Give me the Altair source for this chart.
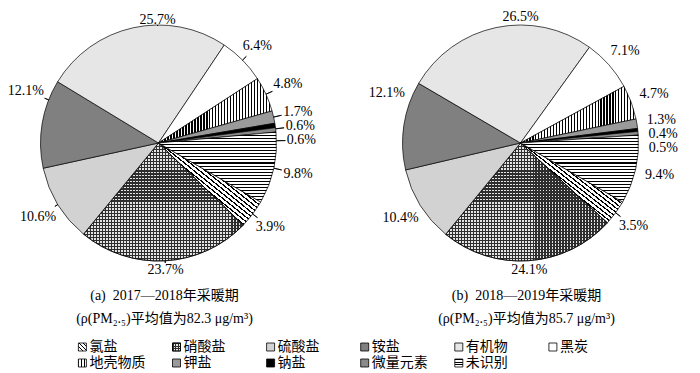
import math
import altair as alt
import pandas as pd

# ---------------- data ----------------
categories = ["氯盐", "硝酸盐", "硫酸盐", "铵盐", "有机物", "黑炭",
              "地壳物质", "钾盐", "钠盐", "微量元素", "未识别"]
share_2017 = [3.9, 23.7, 10.6, 12.1, 25.7, 6.4, 4.8, 1.7, 0.6, 0.6, 9.8]
share_2018 = [3.5, 24.1, 10.4, 12.1, 26.5, 7.1, 4.7, 1.3, 0.4, 0.5, 9.4]
period_ids = ["a", "b"]
caption_title = ["(a)\u00a0\u00a02017—2018年采暖期", "(b)\u00a0\u00a02018—2019年采暖期"]
caption_pm = ["(ρ(PM₂.₅)平均值为82.3 μg/m³)", "(ρ(PM₂.₅)平均值为85.7 μg/m³)"]

FONT = "Liberation Serif, Noto Sans CJK SC"
START_DEG = 120.0
START = math.radians(START_DEG)
R = 118

# ---------------- tables ----------------
rows = []
for pidx, vals in enumerate([share_2017, share_2018]):
    total = sum(vals)
    cum = 0.0
    spans = []
    for c, v in zip(categories, vals):
        spans.append((c, v, cum / total, (cum + v) / total))
        cum += v
    labs = [(s + e) / 2 for _, _, s, e in spans]
    # label style: upper-left labels are turned a little clockwise
    for i, lab in enumerate(labs):
        deg = (START_DEG + lab * 360) % 360
        if 260 <= deg < 360:
            labs[i] = lab + 12 / 360
    gap = 5.8 / 360
    for i in range(1, len(labs)):
        if labs[i] - labs[i - 1] < gap:
            labs[i] = labs[i - 1] + gap
    for (c, v, s, e), lab in zip(spans, labs):
        ang = START + lab * 2 * math.pi
        label = f"{v:.1f}%"
        hw = len(label) * 3.7
        sn, cs = abs(math.sin(ang)), abs(math.cos(ang))
        left = math.sin(ang) < 0
        rad = (121 if left else 124) + sn * (hw + 4) + cs * 2
        lead = rad - sn * (hw + 1) - cs * 6
        rows.append(dict(period=period_ids[pidx], pidx=pidx, cat=c, value=v,
                         start=s, end=e, lab=lab, rad=rad, lead=lead,
                         label=label))
pie_df = pd.DataFrame(rows)

cap_df = pd.DataFrame({"pidx": [0, 1], "t1": caption_title, "t2": caption_pm})
leg_df = pd.DataFrame({"cat": categories,
                       "col": [i % 6 for i in range(len(categories))],
                       "row": [i // 6 for i in range(len(categories))]})


# ---------------- pattern fills ----------------
def stripes(n, x1, y1, x2, y2, dark="#000000", light="#ffffff", duty=0.4):
    n = max(int(n), 2)
    stops = []
    for k in range(n):
        a = k / n
        b = (k + duty) / n
        d = (k + 1) / n
        stops += [(a, dark), (b, dark), (b, light), (d, light)]
    return alt.LinearGradient(
        gradient="linear",
        stops=[alt.GradientStop(offset=round(o, 5), color=c) for o, c in stops],
        x1=x1, y1=y1, x2=x2, y2=y2)


CLEAR = "rgba(255,255,255,0)"


def slice_box(s, e, r=R):
    a0 = START + s * 2 * math.pi
    a1 = START + e * 2 * math.pi
    pts = [(0.0, 0.0), (r * math.sin(a0), -r * math.cos(a0)),
           (r * math.sin(a1), -r * math.cos(a1))]
    for k in range(-4, 16):
        t = k * math.pi / 2
        if a0 < t < a1:
            pts.append((r * math.sin(t), -r * math.cos(t)))
    xs = [p[0] for p in pts]
    ys = [p[1] for p in pts]
    return max(xs) - min(xs), max(ys) - min(ys)


def fills(cat, w, h):
    # w, h: bounding box of the shape in pixels
    if cat == "氯盐":
        return [stripes(round(math.hypot(w, h) / 3.6), 0, 1, 1, 0, duty=0.35)]
    if cat == "硝酸盐":
        return [stripes(round(h / 3), 0, 0, 0, 1, dark="#2e2e2e", light="#e4e4e4", duty=0.42),
                stripes(round(w / 3), 0, 0, 1, 0, dark="#2e2e2e", light=CLEAR, duty=0.42)]
    if cat == "地壳物质":
        return [stripes(round(w / 3), 0, 0, 1, 0, duty=0.4)]
    if cat == "未识别":
        return [stripes(round(h / 3), 0, 0, 0, 1, duty=0.35)]
    solid = {"硫酸盐": "#d2d2d2", "铵盐": "#808080", "有机物": "#e6e6e6",
             "黑炭": "#ffffff", "钾盐": "#9a9a9a", "钠盐": "#000000",
             "微量元素": "#8a8a8a"}
    return [solid[cat]]


# ---------------- encodings ----------------
theta_scale = alt.Scale(domain=[0, 1], range=[START, START + 2 * math.pi])
rad_scale = alt.Scale(type="linear", domain=[0, 200], range=[0, 200], zero=False)
pie_x = alt.X("pidx:Q", scale=alt.Scale(domain=[0, 1], range=[150.5, 512.5]), axis=None)
pie_y = alt.value(135)
leg_x = alt.X("col:Q", scale=alt.Scale(domain=[0, 5], range=[74.4, 544.9]), axis=None)
leg_y = alt.Y("row:Q", scale=alt.Scale(domain=[0, 1], range=[339, 355]), axis=None)

layers = []
for r in rows:
    w, h = slice_box(r["start"], r["end"])
    for f in fills(r["cat"], w, h):
        layers.append(
            alt.Chart(pie_df)
            .transform_filter((alt.datum.cat == r["cat"]) & (alt.datum.pidx == r["pidx"]))
            .mark_arc(outerRadius=R, fill=f, stroke="black", strokeWidth=0.7)
            .encode(x=pie_x, y=pie_y,
                    theta=alt.Theta("start:Q", scale=theta_scale, stack=False),
                    theta2="end:Q"))

# leader lines (zero-width arcs draw radial strokes)
layers.append(
    alt.Chart(pie_df)
    .mark_arc(innerRadius=R, fill="black", stroke="black", strokeWidth=0.8)
    .encode(x=pie_x, y=pie_y,
            theta=alt.Theta("lab:Q", scale=theta_scale, stack=False),
            theta2="lab:Q",
            radius=alt.Radius("lead:Q", scale=rad_scale)))

# percentage labels
layers.append(
    alt.Chart(pie_df)
    .mark_text(font=FONT, fontSize=14, color="black")
    .encode(x=pie_x, y=pie_y,
            theta=alt.Theta("lab:Q", scale=theta_scale, stack=False),
            radius=alt.Radius("rad:Q", scale=rad_scale),
            text="label:N"))

# captions
layers.append(
    alt.Chart(cap_df).mark_text(font=FONT, fontSize=14, color="black", dx=6)
    .encode(x=pie_x, y=alt.value(288), text="t1:N"))
layers.append(
    alt.Chart(cap_df).mark_text(font=FONT, fontSize=14, color="black", dx=6)
    .encode(x=pie_x, y=alt.value(311), text="t2:N"))

# legend symbols
for c in categories:
    for f in fills(c, 9, 9):
        layers.append(
            alt.Chart(leg_df).transform_filter(alt.datum.cat == c)
            .mark_square(size=64, filled=True, fill=f, stroke="black",
                         strokeWidth=0.8, opacity=1)
            .encode(x=leg_x, y=leg_y))

# legend text
layers.append(
    alt.Chart(leg_df).mark_text(font=FONT, fontSize=14, color="black",
                                align="left", dx=7)
    .encode(x=leg_x, y=leg_y, text="cat:N"))

chart = (
    alt.layer(*layers)
    .resolve_scale(x="independent", y="independent")
    .properties(width=684, height=362, padding=0,
                autosize=alt.AutoSizeParams(type="none"))
    .configure_view(strokeWidth=0)
)

chart.save("out.html", embed_options={"renderer": "svg", "actions": False})
